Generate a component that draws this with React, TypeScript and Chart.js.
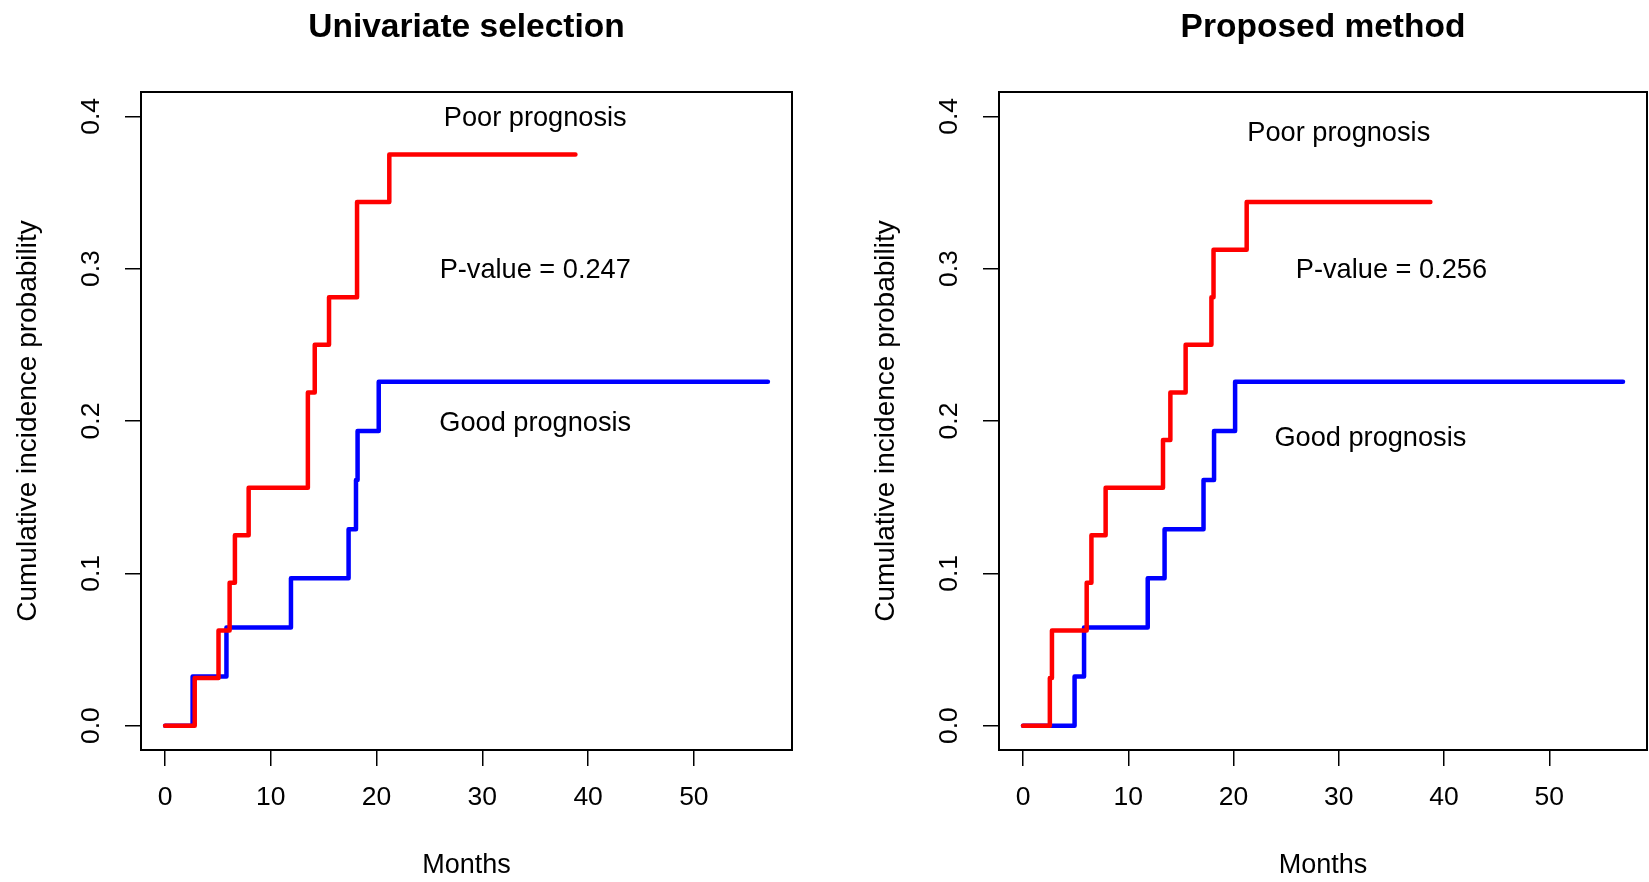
import React, { useEffect, useRef } from 'react';
import { Chart, registerables } from 'chart.js';

Chart.register(...registerables);

const FONT = "'Liberation Sans', Arial, Helvetica, sans-serif";

// Axis set-up (R default 4% range extension)
const xTicks = [0, 10, 20, 30, 40, 50];
const yTicks = [0, 0.1, 0.2, 0.3, 0.4];
const X_MIN = -2.28;
const X_MAX = 59.28;
const Y_MIN = -0.016;
const Y_MAX = 0.416;

// Panel 1: Univariate selection
const uniPoorMonths = [0, 2.8, 5.05, 6.1, 6.6, 7.9, 13.5, 14.15, 15.5, 18.15, 21.2, 38.8];
const uniPoorCif = [0, 0.03125, 0.0625, 0.09375, 0.125, 0.15625, 0.21875, 0.25, 0.28125, 0.34375, 0.375, 0.375];
const uniGoodMonths = [0, 2.6, 5.8, 11.9, 17.35, 18.05, 18.2, 20.2, 57];
const uniGoodCif = [0, 0.0323, 0.0645, 0.0968, 0.129, 0.1613, 0.1935, 0.2258, 0.2258];
const uniNoteText = ['Poor prognosis', 'P-value = 0.247', 'Good prognosis'];
const uniNoteX = [35, 35, 35];
const uniNoteY = [0.4, 0.3, 0.2];

// Panel 2: Proposed method
const propPoorMonths = [0, 2.55, 2.75, 6.05, 6.5, 7.85, 13.3, 14.0, 15.45, 17.9, 18.1, 21.25, 38.7];
const propPoorCif = [0, 0.03125, 0.0625, 0.09375, 0.125, 0.15625, 0.1875, 0.21875, 0.25, 0.28125, 0.3125, 0.34375, 0.34375];
const propGoodMonths = [0, 4.9, 5.8, 11.85, 13.45, 17.15, 18.15, 20.15, 57];
const propGoodCif = [0, 0.0323, 0.0645, 0.0968, 0.129, 0.1613, 0.1935, 0.2258, 0.2258];
const propNoteText = ['Poor prognosis', 'P-value = 0.256', 'Good prognosis'];
const propNoteX = [30, 35, 33];
const propNoteY = [0.39, 0.3, 0.19];

const TITLE_SIZE = 33.5;
const NOTE_SIZE = 27.2;

const panelPlugin = {
  id: 'rPanel',
  beforeDatasetsDraw(chart: any) {
    const { ctx, chartArea: a } = chart;
    ctx.save();
    ctx.strokeStyle = '#000';
    ctx.lineWidth = 2;
    ctx.strokeRect(a.left, a.top, a.right - a.left, a.bottom - a.top);
    ctx.restore();
  },
  afterDraw(chart: any, _args: any, opts: any) {
    const { ctx, chartArea: a, scales } = chart;
    ctx.save();
    ctx.fillStyle = '#000';
    ctx.textAlign = 'center';
    ctx.textBaseline = 'alphabetic';
    ctx.font = `bold ${TITLE_SIZE}px ${FONT}`;
    // cap-height centred at y = 25
    ctx.fillText(opts.title, (a.left + a.right) / 2, 25 + 0.358 * TITLE_SIZE);
    ctx.font = `${NOTE_SIZE}px ${FONT}`;
    (opts.noteText as string[]).forEach((t, i) => {
      ctx.fillText(
        t,
        scales.x.getPixelForValue(opts.noteX[i]),
        scales.y.getPixelForValue(opts.noteY[i]) + 0.358 * NOTE_SIZE,
      );
    });
    ctx.restore();
  },
};

function toPoints(xs: number[], ys: number[]) {
  return xs.map((x, i) => ({ x, y: ys[i] }));
}

function makeConfig(
  title: string,
  poorX: number[], poorY: number[],
  goodX: number[], goodY: number[],
  noteText: string[], noteX: number[], noteY: number[],
  padLeft: number, padRight: number,
): any {
  const lineStyle = {
    borderWidth: 4.5,
    pointRadius: 0,
    stepped: 'before',
    fill: false,
    borderCapStyle: 'round',
    borderJoinStyle: 'round',
  };
  return {
    type: 'line',
    data: {
      datasets: [
        { label: 'Poor prognosis', data: toPoints(poorX, poorY), borderColor: '#ff0000', backgroundColor: '#ff0000', ...lineStyle },
        { label: 'Good prognosis', data: toPoints(goodX, goodY), borderColor: '#0000ff', backgroundColor: '#0000ff', ...lineStyle },
      ],
    },
    options: {
      animation: false,
      responsive: false,
      devicePixelRatio: 1,
      events: [],
      layout: { padding: { left: padLeft, right: padRight, top: 92, bottom: 0 } },
      plugins: {
        legend: { display: false },
        tooltip: { enabled: false },
        title: { display: false },
        rPanel: { title, noteText, noteX, noteY },
      },
      scales: {
        x: {
          type: 'linear',
          min: X_MIN,
          max: X_MAX,
          afterFit: (s: any) => { s.height = 132; },
          afterBuildTicks: (s: any) => { s.ticks = xTicks.map((v) => ({ value: v })); },
          grid: { display: true, drawOnChartArea: false, drawTicks: true, tickLength: 16, color: '#000', lineWidth: 1.5 },
          border: { display: false },
          ticks: {
            color: '#000',
            font: { family: FONT, size: 26.5 },
            padding: 16,
            maxRotation: 0,
            minRotation: 0,
            autoSkip: false,
            callback: (v: any) => String(v),
          },
          title: {
            display: true,
            text: 'Months',
            color: '#000',
            font: { family: FONT, size: 27 },
            padding: { top: 0, bottom: 0 },
          },
        },
        y: {
          type: 'linear',
          min: Y_MIN,
          max: Y_MAX,
          afterFit: (s: any) => { s.width = 141; },
          afterBuildTicks: (s: any) => { s.ticks = yTicks.map((v) => ({ value: v })); },
          grid: { display: true, drawOnChartArea: false, drawTicks: true, tickLength: 16, color: '#000', lineWidth: 1.5 },
          border: { display: false },
          ticks: {
            color: '#000',
            font: { family: FONT, size: 26.5 },
            padding: 15,
            minRotation: 90,
            maxRotation: 90,
            crossAlign: 'center',
            autoSkip: false,
            callback: (v: any) => Number(v).toFixed(1),
          },
          title: {
            display: true,
            text: 'Cumulative incidence probability',
            color: '#000',
            font: { family: FONT, size: 28 },
            padding: { top: 11, bottom: 0 },
          },
        },
      },
    },
    plugins: [panelPlugin],
  };
}

export default function App() {
  const leftRef = useRef<HTMLCanvasElement | null>(null);
  const rightRef = useRef<HTMLCanvasElement | null>(null);

  useEffect(() => {
    Chart.defaults.font.family = FONT;
    const left = new Chart(
      leftRef.current as HTMLCanvasElement,
      makeConfig('Univariate selection', uniPoorMonths, uniPoorCif, uniGoodMonths, uniGoodCif,
        uniNoteText, uniNoteX, uniNoteY, 0, 32),
    );
    const right = new Chart(
      rightRef.current as HTMLCanvasElement,
      makeConfig('Proposed method', propPoorMonths, propPoorCif, propGoodMonths, propGoodCif,
        propNoteText, propNoteX, propNoteY, 34, 2),
    );
    return () => {
      left.destroy();
      right.destroy();
    };
  }, []);

  return (
    <div style={{ position: 'fixed', left: 0, top: 0, width: 1649, height: 882, background: '#fff', overflow: 'hidden' }}>
      <canvas ref={leftRef} width={824} height={882} style={{ position: 'absolute', left: 0, top: 0 }} />
      <canvas ref={rightRef} width={825} height={882} style={{ position: 'absolute', left: 824, top: 0 }} />
    </div>
  );
}
